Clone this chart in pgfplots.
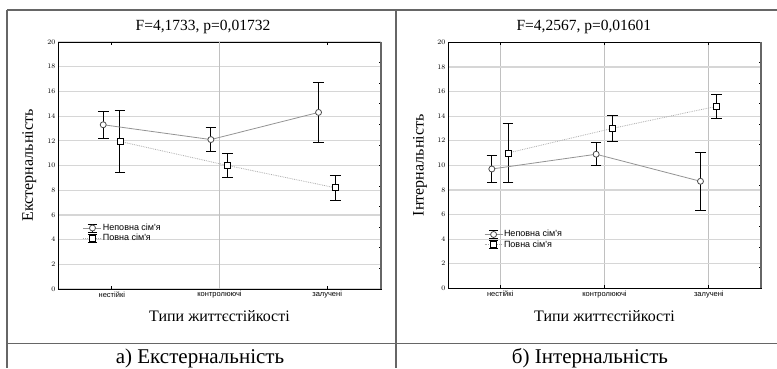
\documentclass[border=0pt]{standalone}
\usepackage{fontspec}
\setmainfont{Liberation Serif}
\newfontfamily\chartsans{Liberation Sans}
\usepackage{pgfplots}
\pgfplotsset{compat=1.18}
\usepackage{pgfplotstable}

\pgfplotstableread{
x y e
-0.08 13.3 1.08
0.92 12.1 0.96
1.92 14.3 2.42
}\leftA
\pgfplotstableread{
x y e
0.075 11.95 2.5
1.075 10.0 0.97
2.075 8.2 1.02
}\leftB
\pgfplotstableread{
x y e
-0.08 9.7 1.08
0.92 10.9 0.95
1.92 8.7 2.37
}\rightA
\pgfplotstableread{
x y e
0.075 11.0 2.4
1.075 13.0 1.03
2.075 14.8 1.0
}\rightB

\definecolor{gridh}{HTML}{D6D6D6}
\definecolor{gridv}{HTML}{C0C0C0}
\definecolor{frame}{HTML}{666666}

\pgfplotsset{
  myaxis/.style={
    scale only axis,
    xmin=-0.5, xmax=2.5, ymin=0, ymax=20,
    xtick={0,1,2},
    xticklabels={нестійкі,контролюючі,залучені},
    ytick={0,2,...,20},
    xtick pos=both, ytick pos=left,
    tick align=inside,
    major tick length=3pt,
    xtick style={black, line width=0.7pt},
    ytick style={draw=none},
    yticklabel style={font=\chartsans\fontsize{7.5}{8}\selectfont, xshift=1pt},
    xticklabel style={font=\chartsans\fontsize{7.5}{8}\selectfont, yshift=1pt},
    ymajorgrids,
    y grid style={gridh, line width=1.2pt},
    x grid style={gridv, line width=0.9pt},
    axis line style={black, line width=0.8pt},
    title style={font=\fontsize{15.5}{17}\selectfont, anchor=base, yshift=0pt},
    xlabel style={font=\fontsize{16}{18}\selectfont, anchor=base, at={(0.5,-0.133)}},
    ylabel style={font=\fontsize{16}{18}\selectfont, anchor=base, at={(-0.078,0.5)}},
    legend style={draw=none, fill=none, inner sep=0pt, row sep=0pt,
      font=\chartsans\fontsize{9}{10}\selectfont, anchor=north west,
      nodes={inner sep=1pt}},
    legend cell align=left,
    legend image code/.code={
      \draw[black, solid, line width=0.7pt] (9pt,-4pt)--(9pt,4pt)
        (4.5pt,4pt)--(13.5pt,4pt) (4.5pt,-4pt)--(13.5pt,-4pt);
      \draw[mark repeat=2,mark phase=2] plot coordinates {(0pt,0pt)(9pt,0pt)(18pt,0pt)};
    },
  },
  errb/.style={forget plot, only marks, mark=none,
    error bars/.cd, y dir=both, y explicit,
    error bar style={black, solid, line width=0.9pt},
    error mark options={rotate=90, black, solid, mark size=5.3pt, line width=0.9pt}},
  circ/.style={gray!85, solid, line width=0.8pt, mark=*,
    mark options={solid, fill=white, draw=black!70, mark size=3pt, line width=0.8pt}},
  sq/.style={gray!65, densely dotted, line width=0.8pt, mark=square*,
    mark options={solid, fill=white, draw=black, mark size=3pt, line width=0.8pt}},
  rightticks/.style={
    scale only axis, xmin=-0.5, xmax=2.5, ymin=0, ymax=20,
    axis y line*=right, axis x line=none,
    ytick={1.6667,3.3333,5,6.6667,8.3333,10,11.6667,13.3333,15,16.6667,18.3333},
    yticklabels={},
    tick align=inside, major tick length=2pt,
    ytick style={black, line width=0.8pt},
    y axis line style={black!60, line width=1.5pt},
  },
}

\begin{document}
\begin{tikzpicture}[x=1pt,y=1pt]
\useasboundingbox (0,0) rectangle (777,368);
% table frame
\draw[frame, line width=1.1pt] (7,358) -- (777,358);
\draw[frame, line width=1.1pt] (7,358) -- (7,0);
\draw[frame, line width=1.1pt] (396,358) -- (396,0);
\draw[frame, line width=1.1pt] (7,24.5) -- (777,24.5);

% left chart
\begin{axis}[myaxis, at={(58pt,79pt)}, anchor=south west,
  width=323pt, height=247pt,
  extra x ticks={1}, extra x tick labels={},
  extra x tick style={xmajorgrids=true, major tick length=0pt},
  title={F=4,1733, p=0,01732}, title style={at={(0.449,1.022)}},
  xlabel={Типи життєстійкості}, ylabel={Екстернальність},
  legend style={at={(0.077,0.268)}}]
\addplot[errb] table[x=x, y=y, y error=e] {\leftA};
\addplot[errb] table[x=x, y=y, y error=e] {\leftB};
\addplot[circ] table[x=x, y=y] {\leftA};
\addlegendentry{Неповна сім'я}
\addplot[sq] table[x=x, y=y] {\leftB};
\addlegendentry{Повна сім'я}
\end{axis}
\begin{axis}[rightticks, at={(58pt,79pt)}, anchor=south west, width=323pt, height=247pt]
\end{axis}

% right chart
\begin{axis}[myaxis, at={(448pt,79.7pt)}, anchor=south west,
  width=313pt, height=246pt,
  xmajorgrids,
  title={F=4,2567, p=0,01601}, title style={at={(0.434,1.022)}},
  xlabel={Типи життєстійкості}, ylabel={Інтернальність},
  legend style={at={(0.115,0.24)}}]
\addplot[errb] table[x=x, y=y, y error=e] {\rightA};
\addplot[errb] table[x=x, y=y, y error=e] {\rightB};
\addplot[circ] table[x=x, y=y] {\rightA};
\addlegendentry{Неповна сім'я}
\addplot[sq] table[x=x, y=y] {\rightB};
\addlegendentry{Повна сім'я}
\end{axis}
\begin{axis}[rightticks, at={(448pt,79.7pt)}, anchor=south west, width=313pt, height=246pt]
\end{axis}

% captions
\node[anchor=base, font=\fontsize{21}{24}\selectfont] at (200,5) {а) Екстернальність};
\node[anchor=base, font=\fontsize{21}{24}\selectfont] at (590,5) {б) Інтернальність};
\end{tikzpicture}
\end{document}
